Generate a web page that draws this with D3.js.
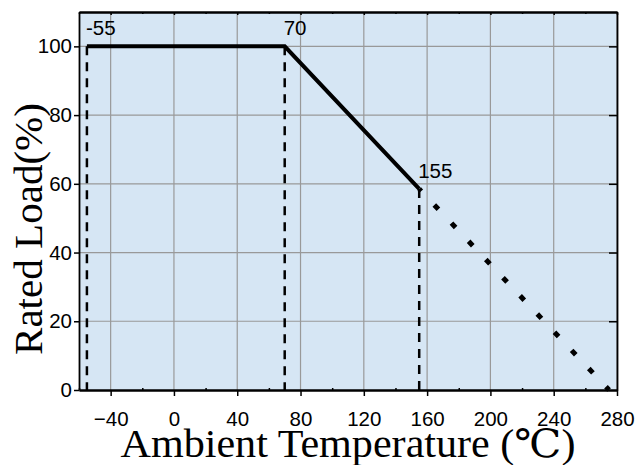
<!DOCTYPE html>
<html>
<head>
<meta charset="utf-8">
<script src="https://cdn.jsdelivr.net/npm/d3@7"></script>
<style>
body { margin: 0; background: #fff; }
svg text { font-family: "Liberation Sans", Arial, sans-serif; }
</style>
</head>
<body>
<svg id="chart" width="638" height="465"></svg>
<script>
// derating curve (temperature C, rated load %)
var solidTemps = [-55, 70, 155];
var solidLoads = [100, 100, 58.5];
var dottedTemps = [155, 275];
var dottedLoads = [58.5, 0];
// vertical dashed markers and their labels
var markTemps = [-55, 70, 155];
var markLoads = [100, 100, 58.5];
var markLabels = ["-55", "70", "155"];
var xTicks = [-40, 0, 40, 80, 120, 160, 200, 240, 280];
var xMinor = [-60, -20, 20, 60, 100, 140, 180, 220, 260];
var yTicks = [0, 20, 40, 60, 80, 100];

var svg = d3.select("#chart");
var m = {left: 79, right: 617, top: 12, bottom: 390};

var x = d3.scaleLinear().domain([-60, 280]).range([m.left, m.right]);
var y = d3.scaleLinear().domain([0, 110]).range([m.bottom, m.top]);

svg.append("rect")
    .attr("x", m.left).attr("y", m.top)
    .attr("width", m.right - m.left).attr("height", m.bottom - m.top)
    .attr("fill", "#d6e6f4");

// grid
svg.append("g").selectAll("line").data(xTicks).join("line")
    .attr("x1", d => x(d)).attr("x2", d => x(d))
    .attr("y1", m.top).attr("y2", m.bottom)
    .attr("stroke", "#999").attr("stroke-width", 1.2);
svg.append("g").selectAll("line").data(yTicks.slice(1)).join("line")
    .attr("x1", m.left).attr("x2", m.right)
    .attr("y1", d => y(d)).attr("y2", d => y(d))
    .attr("stroke", "#999").attr("stroke-width", 1.2);

// axes
svg.append("g").attr("transform", "translate(0," + m.bottom + ")")
    .call(d3.axisBottom(x).tickValues(xTicks).tickSize(6).tickPadding(15).tickSizeOuter(0));
svg.append("g").attr("transform", "translate(" + m.left + ",0)")
    .call(d3.axisLeft(y).tickValues(yTicks).tickSize(5).tickPadding(2).tickSizeOuter(0));
svg.append("g").attr("transform", "translate(0," + m.top + ")")
    .call(d3.axisBottom(x).tickValues(xTicks).tickSize(3).tickFormat("").tickSizeOuter(0));
svg.append("g").attr("transform", "translate(0," + m.top + ")")
    .call(d3.axisBottom(x).tickValues(xMinor).tickSize(2).tickFormat("").tickSizeOuter(0));
svg.append("g").attr("transform", "translate(0," + m.bottom + ")")
    .call(d3.axisTop(x).tickValues(xMinor).tickSize(2).tickFormat("").tickSizeOuter(0));
svg.append("g").attr("transform", "translate(" + m.right + ",0)")
    .call(d3.axisLeft(y).tickValues(yTicks.slice(1)).tickSize(8).tickFormat("").tickSizeOuter(0));

svg.selectAll(".domain").attr("stroke", "#000").attr("stroke-width", 1.8);
svg.selectAll(".tick line").attr("stroke", "#000").attr("stroke-width", 1.5);
svg.selectAll(".tick text").attr("fill", "#000").style("font-size", "20.5px")
    .style("font-family", "'Liberation Sans', Arial, sans-serif");

// dashed verticals
svg.append("g").selectAll("line").data(markTemps).join("line")
    .attr("x1", d => x(d)).attr("x2", d => x(d))
    .attr("y1", (d, i) => y(markLoads[i])).attr("y2", y(0))
    .attr("stroke", "#000").attr("stroke-width", 2.5)
    .attr("stroke-dasharray", "9,7");

var line = d3.line().x(d => x(d[0])).y(d => y(d[1]));

svg.append("path")
    .datum(dottedTemps.map((t, i) => [t, dottedLoads[i]]))
    .attr("d", line)
    .attr("fill", "none").attr("stroke", "#000")
    .attr("stroke-width", 5).attr("stroke-dasharray", "6,19")
    .attr("stroke-dashoffset", 3);

svg.append("path")
    .datum(solidTemps.map((t, i) => [t, solidLoads[i]]))
    .attr("d", line)
    .attr("fill", "none").attr("stroke", "#000")
    .attr("stroke-width", 4).attr("stroke-linejoin", "miter");

// point labels
svg.append("g").selectAll("text").data(markLabels).join("text")
    .attr("x", (d, i) => x(markTemps[i]) - 1)
    .attr("y", (d, i) => y(markLoads[i]) - 11)
    .style("font-size", "20.5px")
    .text(d => d);

// axis titles
svg.append("text")
    .attr("x", (m.left + m.right) / 2).attr("y", 457)
    .attr("text-anchor", "middle")
    .attr("textLength", 455).attr("lengthAdjust", "spacingAndGlyphs")
    .style("font-family", "'Liberation Serif', 'DejaVu Serif', serif")
    .style("font-size", "39px")
    .text("Ambient Temperature (℃)");

svg.append("text")
    .attr("transform", "translate(42,229) rotate(-90)")
    .attr("text-anchor", "middle")
    .attr("textLength", 252).attr("lengthAdjust", "spacingAndGlyphs")
    .style("font-family", "'Liberation Serif', 'DejaVu Serif', serif")
    .style("font-size", "41px")
    .text("Rated Load(%)");
</script>
</body>
</html>
